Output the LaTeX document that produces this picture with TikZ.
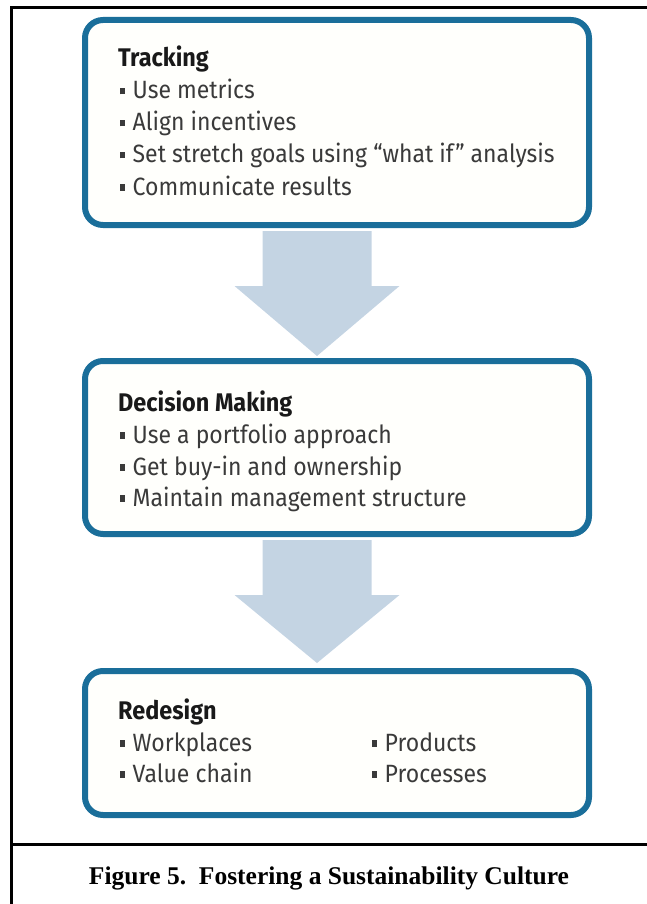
\documentclass[tikz,border=0pt]{standalone}
\usepackage{fontspec}
\usepackage{xcolor}
\setmainfont{Fira Sans}[FakeStretch=0.92]
\newfontfamily\capfont{Liberation Serif}
\usetikzlibrary{calc}

\definecolor{boxblue}{HTML}{1A6E9A}
\definecolor{boxfill}{RGB}{255,255,252}
\definecolor{arrowfill}{HTML}{C4D4E3}
\definecolor{textgray}{HTML}{3A3A3A}

\newcommand{\bul}{\rule[0.18em]{0.2em}{0.26em}\hspace{0.3em}}

\tikzset{
  stepbox/.style={draw=boxblue, line width=6pt, rounded corners=18pt, fill=boxfill, minimum width=504pt},
  head/.style={anchor=base west, inner sep=0pt, font=\fontsize{25.5}{30}\selectfont\bfseries, text=black!90},
  item/.style={anchor=base west, inner sep=0pt, font=\fontsize{25}{30}\selectfont, text=textgray}
}

\begin{document}
\begin{tikzpicture}[x=1pt,y=-1pt]

      \useasboundingbox (0,0) rectangle (647,904);

      % outer frame and caption rule
      \draw[line width=3pt] (11,904) -- (11,8) -- (647,8);
      \draw[line width=3pt] (11,844) -- (647,844);

      % the three boxes
      \node[stepbox, minimum height=205pt] (trk) at (337,122.5) {};
      \node[stepbox, minimum height=173pt] (dec) at (337,447.5) {};
      \node[stepbox, minimum height=144pt] (red) at (337,743) {};

      % block arrows
      \fill[arrowfill] ($(trk.south)+(-74.5,3)$) -- ++(109,0) -- ++(0,55) -- ++(28,0)
            -- ++(-82.5,70) -- ++(-82.5,-70) -- ++(28,0) -- cycle;
      \fill[arrowfill] ($(dec.south)+(-74.5,3)$) -- ++(109,0) -- ++(0,55) -- ++(28,0)
            -- ++(-82.5,68) -- ++(-82.5,-68) -- ++(28,0) -- cycle;

      % Tracking
      \node[head] (trkhead) at (118,67) {Tracking};
      \node[item] (trka) at (120,99) {\bul Use metrics};
      \node[item] (trkb) at (120,131) {\bul Align incentives};
      \node[item] (trkc) at (120,163) {\bul Set stretch goals using “what if” analysis};
      \node[item] (trkd) at (120,195) {\bul Communicate results};

      % Decision Making
      \node[head] (dechead) at (118,411) {Decision Making};
      \node[item] (deca) at (120,443) {\bul Use a portfolio approach};
      \node[item] (decb) at (120,475) {\bul Get buy-in and ownership};
      \node[item] (decc) at (120,506) {\bul Maintain management structure};

      % Redesign
      \node[head] (redhead) at (118,719) {Redesign};
      \node[item] (reda) at (120,751) {\bul Workplaces};
      \node[item] (redb) at (120,782) {\bul Value chain};
      \node[item] (redc) at (372,751) {\bul Products};
      \node[item] (redd) at (372,782) {\bul Processes};

      % caption
      \node[anchor=base, inner sep=0pt, font=\capfont\fontsize{25.5}{30}\selectfont\bfseries] (cap) at (329,884)
            {Figure 5.\ \ Fostering a Sustainability Culture};

\end{tikzpicture}
\end{document}
